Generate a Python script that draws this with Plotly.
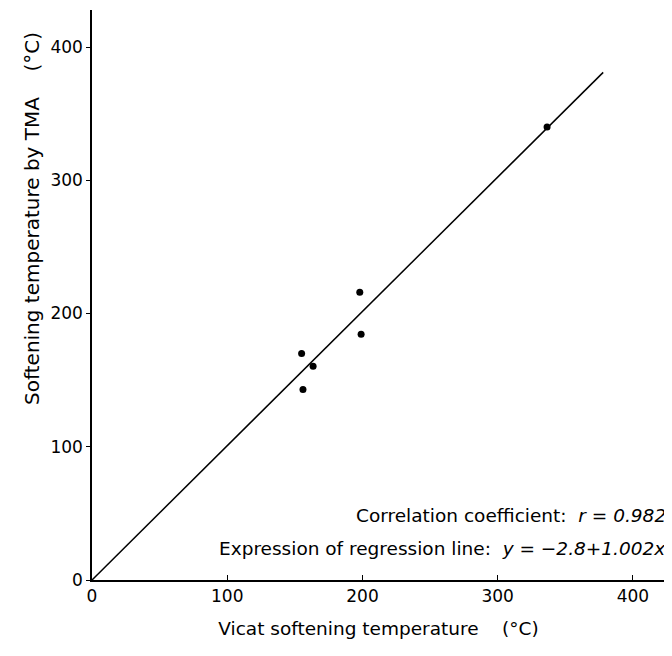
import plotly.graph_objects as go

# Data
vicat = [155, 156, 163.5, 198, 199, 336.5]
tma = [170, 143, 160.5, 216, 184.5, 340]

# Regression line endpoints (y = -2.8 + 1.002x as drawn)
line_x = [0, 378]
line_y = [0, 381]

x_ticks = [0, 100, 200, 300, 400]
y_ticks = [0, 100, 200, 300, 400]

font_family = "DejaVu Sans"

fig = go.Figure()
fig.add_trace(go.Scatter(x=line_x, y=line_y, mode="lines",
                         line=dict(color="black", width=1.5),
                         showlegend=False, hoverinfo="skip"))
fig.add_trace(go.Scatter(x=vicat, y=tma, mode="markers",
                         marker=dict(color="black", size=7, symbol="circle"),
                         showlegend=False))

fig.update_layout(
    width=664, height=648,
    margin=dict(l=84, r=7, t=2, b=76),
    paper_bgcolor="white", plot_bgcolor="white",
    font=dict(family=font_family, size=16, color="black"),
    xaxis=dict(range=[0, 423.7], tickvals=x_ticks, ticktext=[str(v) for v in x_ticks],
               showline=True, linecolor="black", linewidth=1.5,
               ticks="inside", ticklen=5, tickcolor="black",
               showgrid=False, zeroline=False,
               tickfont=dict(size=17),
               title=dict(text="Vicat softening temperature    (°C)", font=dict(size=18.5), standoff=17)),
    yaxis=dict(range=[0, 427.8], tickvals=y_ticks, ticktext=[str(v) for v in y_ticks],
               showline=True, linecolor="black", linewidth=1.5,
               ticks="outside", ticklen=4, tickcolor="black",
               showgrid=False, zeroline=False,
               tickfont=dict(size=17)),
)

# Y-axis title placed as in the reference (above centre)
fig.add_annotation(xref="paper", yref="paper", x=-0.105, y=0.635,
                   xanchor="center", yanchor="middle", showarrow=False,
                   textangle=-90,
                   text="Softening temperature by TMA    (°C)",
                   font=dict(size=20))

fig.add_annotation(xref="paper", yref="paper", x=1.005, y=0.114,
                   xanchor="right", yanchor="middle", showarrow=False,
                   text="Correlation coefficient:  <i>r = 0.982</i>",
                   font=dict(size=18.5))
fig.add_annotation(xref="paper", yref="paper", x=1.005, y=0.056,
                   xanchor="right", yanchor="middle", showarrow=False,
                   text="Expression of regression line:  <i>y = −2.8+1.002x</i>",
                   font=dict(size=18.5))

fig.write_html("out.html")
